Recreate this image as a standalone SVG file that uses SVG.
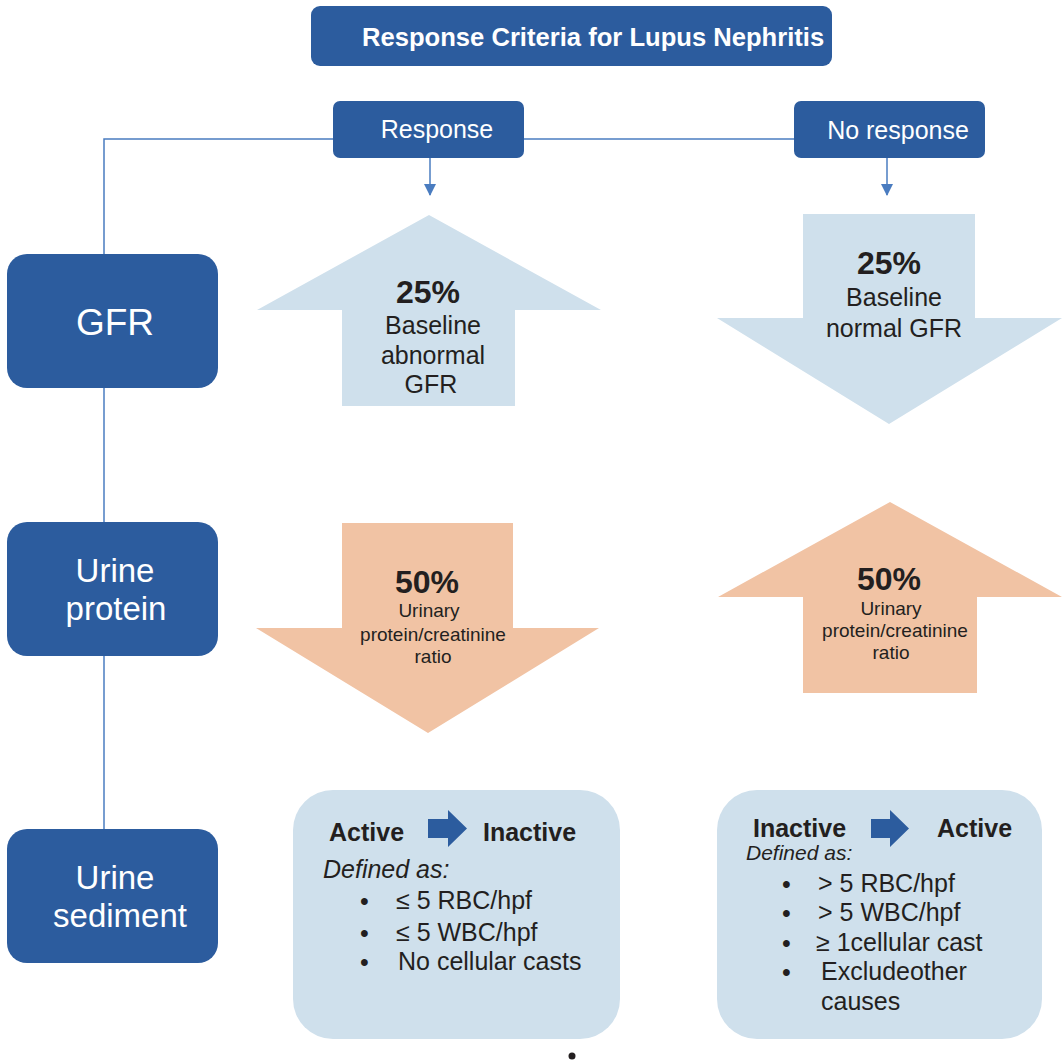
<svg xmlns="http://www.w3.org/2000/svg" width="1062" height="1062" viewBox="0 0 1062 1062">
<defs>
<style>
.box{fill:#2c5c9e}
.wt{fill:#fff;font-family:"Liberation Sans",Arial,sans-serif}
.dk{fill:#231f20;font-family:"Liberation Sans",Arial,sans-serif}
.b{font-weight:bold}
.conn{stroke:#4a7cc0;stroke-width:1.5;fill:none}
.lb{fill:#cfe0ec}
.or{fill:#f1c3a4}
.ba{fill:#2c5c9e}
.bul{font-size:25px}
</style>
<marker id="ah" markerWidth="12" markerHeight="12" refX="11" refY="6" orient="auto" markerUnits="userSpaceOnUse">
<path d="M0,0 L12,6 L0,12 Z" fill="#4a7cc0"/>
</marker>
</defs>
<rect width="1062" height="1062" fill="#fff"/>
<g id="connectors">
<polyline class="conn" points="333,139 104,139 104,254"/>
<line class="conn" x1="524" y1="139" x2="794" y2="139"/>
<line class="conn" x1="104" y1="388" x2="104" y2="522"/>
<line class="conn" x1="104" y1="656" x2="104" y2="829"/>
<line class="conn" x1="430" y1="158" x2="430" y2="195" marker-end="url(#ah)"/>
<line class="conn" x1="887" y1="158" x2="887" y2="195" marker-end="url(#ah)"/>
</g>
<g id="title">
<rect class="box" x="311" y="6" width="521" height="60" rx="9"/>
<text class="wt b" x="362" y="46" font-size="25.6">Response Criteria for Lupus Nephritis</text>
</g>
<g id="response">
<rect class="box" x="333" y="101" width="191" height="57" rx="7"/>
<text class="wt" x="437" y="138" font-size="25" text-anchor="middle">Response</text>
</g>
<g id="noresponse">
<rect class="box" x="794" y="101" width="191" height="57" rx="7"/>
<text class="wt" x="898" y="139" font-size="25" text-anchor="middle">No response</text>
</g>
<g id="gfr">
<rect class="box" x="7" y="254" width="211" height="134" rx="20"/>
<text class="wt" x="115" y="335" font-size="37" text-anchor="middle">GFR</text>
</g>
<g id="urineprotein">
<rect class="box" x="7" y="522" width="211" height="134" rx="20"/>
<text class="wt" x="115" y="582" font-size="33" text-anchor="middle">Urine</text>
<text class="wt" x="116" y="620" font-size="33" text-anchor="middle">protein</text>
</g>
<g id="urinesediment">
<rect class="box" x="7" y="829" width="211" height="134" rx="20"/>
<text class="wt" x="115" y="889" font-size="33" text-anchor="middle">Urine</text>
<text class="wt" x="120" y="927" font-size="33" text-anchor="middle">sediment</text>
</g>
<g id="gfr-response">
<polygon class="lb" points="429,215 601,310 515,310 515,406 342,406 342,310 257,310"/>
<text class="dk b" x="428" y="303" font-size="32" text-anchor="middle">25%</text>
<text class="dk" x="433" y="334" font-size="25" text-anchor="middle">Baseline</text>
<text class="dk" x="433" y="364" font-size="25" text-anchor="middle">abnormal</text>
<text class="dk" x="431" y="393" font-size="25" text-anchor="middle">GFR</text>
</g>
<g id="gfr-noresponse">
<polygon class="lb" points="803,214 975,214 975,318 1062,318 889,424 717,318 803,318"/>
<text class="dk b" x="889" y="274" font-size="32" text-anchor="middle">25%</text>
<text class="dk" x="894" y="306" font-size="25" text-anchor="middle">Baseline</text>
<text class="dk" x="894" y="337" font-size="25" text-anchor="middle">normal GFR</text>
</g>
<g id="protein-response">
<polygon class="or" points="342,523 513,523 513,628 599,628 428,733 256,628 342,628"/>
<text class="dk b" x="427" y="593" font-size="32" text-anchor="middle">50%</text>
<text class="dk" x="429" y="617" font-size="19" text-anchor="middle">Urinary</text>
<text class="dk" x="433" y="641" font-size="19" text-anchor="middle">protein/creatinine</text>
<text class="dk" x="433" y="663" font-size="19" text-anchor="middle">ratio</text>
</g>
<g id="protein-noresponse">
<polygon class="or" points="890,502 1062,597 977,597 977,693 803,693 803,597 718,597"/>
<text class="dk b" x="889" y="590" font-size="32" text-anchor="middle">50%</text>
<text class="dk" x="891" y="615" font-size="19" text-anchor="middle">Urinary</text>
<text class="dk" x="895" y="637" font-size="19" text-anchor="middle">protein/creatinine</text>
<text class="dk" x="891" y="659" font-size="19" text-anchor="middle">ratio</text>
</g>
<g id="sediment-response">
<rect class="lb" x="293" y="790" width="327" height="249" rx="40"/>
<text class="dk b" x="329" y="841" font-size="25">Active</text>
<polygon class="ba" points="428,819 448,819 448,810 467,828.5 448,847 448,838 428,838"/>
<text class="dk b" x="483" y="841" font-size="25">Inactive</text>
<text class="dk" x="323" y="878" font-size="25" font-style="italic">Defined as:</text>
<text class="dk" x="360" y="910" font-size="25">•</text>
<text class="dk" x="396" y="909" font-size="25">≤ 5 RBC/hpf</text>
<text class="dk" x="360" y="942" font-size="25">•</text>
<text class="dk" x="396" y="941" font-size="25">≤ 5 WBC/hpf</text>
<text class="dk" x="360" y="971" font-size="25">•</text>
<text class="dk" x="398" y="970" font-size="25">No cellular casts</text>
</g>
<g id="sediment-noresponse">
<rect class="lb" x="717" y="790" width="325" height="249" rx="40"/>
<text class="dk b" x="753" y="837" font-size="25">Inactive</text>
<polygon class="ba" points="871,819 890,819 890,810 909,828.5 890,847 890,838 871,838"/>
<text class="dk b" x="937" y="837" font-size="25">Active</text>
<text class="dk" x="746" y="860" font-size="21" font-style="italic">Defined as:</text>
<text class="dk bul" x="782" y="893">•</text>
<text class="dk" x="818" y="892" font-size="25">&gt; 5 RBC/hpf</text>
<text class="dk bul" x="782" y="922">•</text>
<text class="dk" x="818" y="921" font-size="25">&gt; 5 WBC/hpf</text>
<text class="dk bul" x="782" y="952">•</text>
<text class="dk" x="816" y="951" font-size="25">≥ 1cellular cast</text>
<text class="dk bul" x="782" y="981">•</text>
<text class="dk" x="821" y="980" font-size="25">Excludeother</text>
<text class="dk" x="821" y="1010" font-size="25">causes</text>
</g>
<circle cx="572" cy="1056" r="3.5" fill="#231f20"/>
</svg>
